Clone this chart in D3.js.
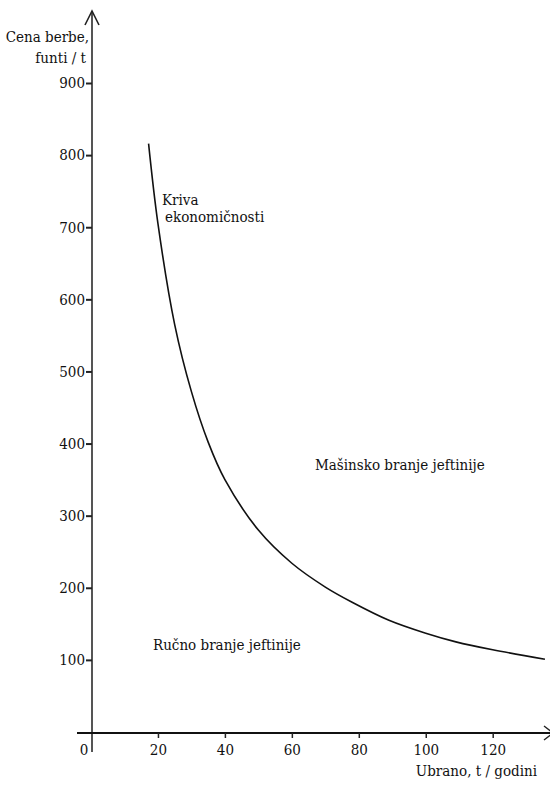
<!DOCTYPE html>
<html><head><meta charset="utf-8">
<script src="https://cdn.jsdelivr.net/npm/d3@7"></script>
<style>body{margin:0;background:#fff}</style>
</head><body><svg id="c" width="550" height="785"></svg>
<script>
const harvestX = [17.2, 20, 25, 30, 35, 40, 50, 60, 70, 78, 89, 100, 109, 120, 135.6];
const priceY   = [816, 705, 565, 472, 402, 350, 280, 234, 201, 180, 155, 137, 125, 114, 101];
const yTicks = [100, 200, 300, 400, 500, 600, 700, 800, 900];
const xTicks = [20, 40, 60, 80, 100, 120];
const FONT = "'DejaVu Serif Condensed', 'DejaVu Serif', serif";

const svg = d3.select("#c");
const x = d3.scaleLinear().domain([0, 120]).range([91, 492.7]);
const y = d3.scaleLinear().domain([0, 900]).range([732, 83]);

svg.append("line").attr("x1", x(0)+1).attr("x2", x(0)+1).attr("y1", 752).attr("y2", 11)
  .attr("stroke", "#555").attr("stroke-width", 2);
svg.append("path").attr("d", `M${x(0)-6},25 L${x(0)+1},11 L${x(0)+8},25`)
  .attr("fill", "none").attr("stroke", "#222").attr("stroke-width", 1.6);
svg.append("line").attr("x1", 77).attr("x2", 550).attr("y1", y(0)+1).attr("y2", y(0)+1)
  .attr("stroke", "#111").attr("stroke-width", 2);
svg.append("path").attr("d", `M544,${y(0)-6} L553,${y(0)+1} L544,${y(0)+8}`)
  .attr("fill", "none").attr("stroke", "#222").attr("stroke-width", 1.4);

const yAxis = d3.axisLeft(y).tickValues(yTicks).tickSize(6).tickPadding(1).tickSizeOuter(0);
const gy = svg.append("g").attr("transform", `translate(${x(0)+1},0)`).call(yAxis);
gy.select(".domain").remove();
gy.selectAll(".tick line").attr("stroke", "#222").attr("stroke-width", 2);

const xAxis = d3.axisBottom(x).tickValues(xTicks).tickSize(5).tickPadding(6).tickSizeOuter(0);
const gx = svg.append("g").attr("transform", `translate(0,${y(0)+1})`).call(xAxis);
gx.select(".domain").remove();
gx.selectAll(".tick line").attr("stroke", "#222").attr("stroke-width", 1.5);
svg.append("text").attr("x", x(0)-7).attr("y", 755).attr("text-anchor", "middle").text("0");

const pts = harvestX.map((d, i) => [d, priceY[i]]);
svg.append("path").datum(pts)
  .attr("d", d3.line().x(d => x(d[0])).y(d => y(d[1])).curve(d3.curveCatmullRom.alpha(0.5)))
  .attr("fill", "none").attr("stroke", "#111").attr("stroke-width", 1.6);

svg.append("text").attr("x", 89).attr("y", 42).attr("text-anchor", "end").text("Cena berbe,");
svg.append("text").attr("x", 86).attr("y", 63).attr("text-anchor", "end").text("funti / t");
svg.append("text").attr("x", 537).attr("y", 776).attr("text-anchor", "end").text("Ubrano, t / godini");
svg.append("text").attr("x", 162).attr("y", 205).text("Kriva");
svg.append("text").attr("x", 165).attr("y", 222).text("ekonomičnosti");
svg.append("text").attr("x", 315).attr("y", 470).text("Mašinsko branje jeftinije");
svg.append("text").attr("x", 153).attr("y", 650).text("Ručno branje jeftinije");

svg.selectAll("g").attr("font-family", null).attr("font-size", null);
svg.selectAll("text").style("font-family", FONT).style("font-stretch", "condensed")
  .style("font-size", "15px").style("fill", "#111");
</script></body></html>
